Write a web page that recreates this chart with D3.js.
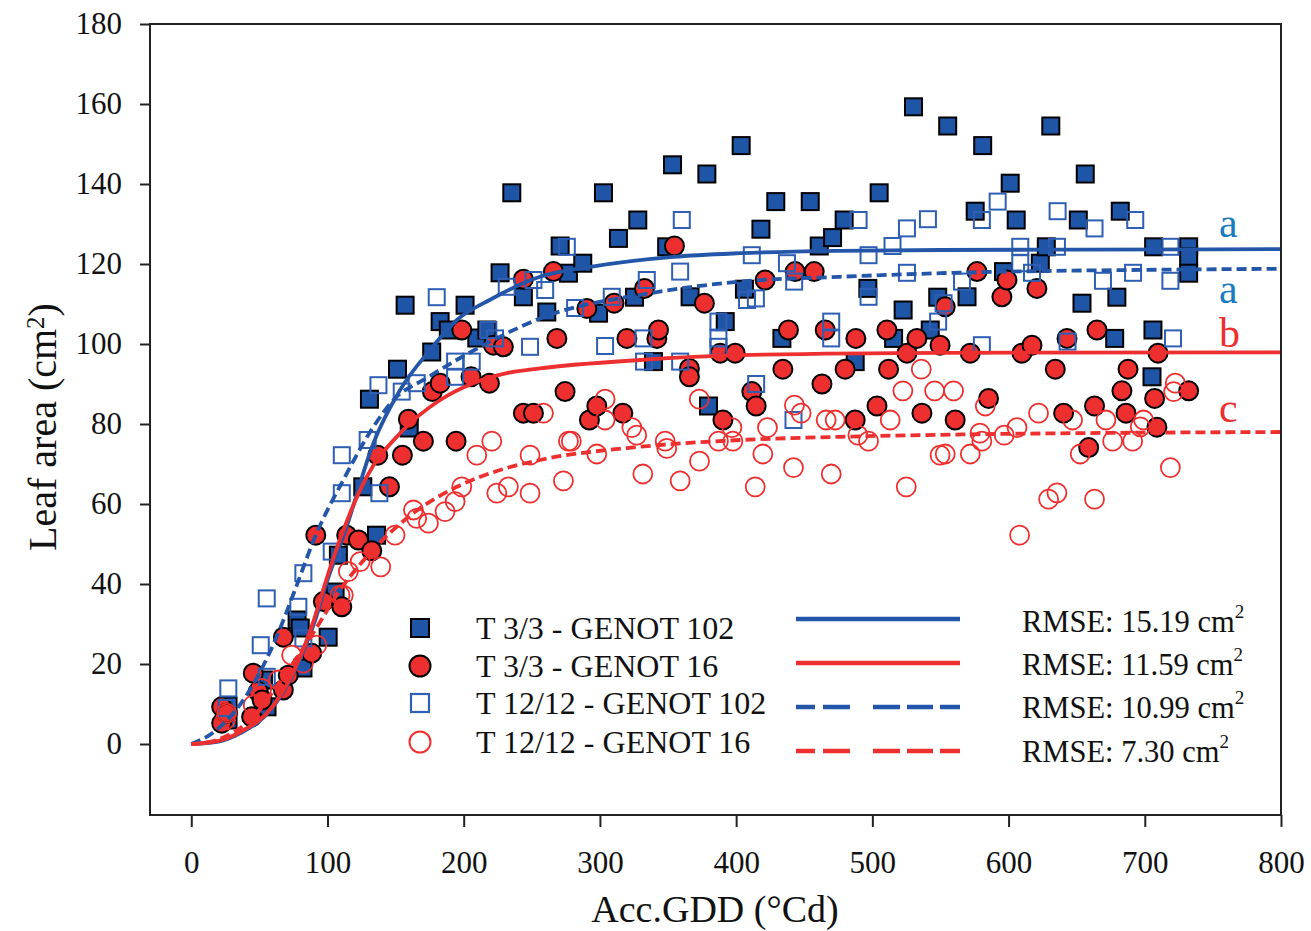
<!DOCTYPE html>
<html>
<head>
<meta charset="utf-8">
<script src="https://cdn.jsdelivr.net/npm/d3@7"></script>
<style>
body { margin: 0; background: #fff; }
text { font-family: "Liberation Serif", "Times New Roman", serif; fill: #111; }
</style>
</head>
<body>
<svg width="1311" height="931"></svg>
<script>
var svg = d3.select('svg');

// observations, [Acc.GDD, leaf area]
var t3g102 = [[27,9.5],[27,6],[53,16],[55.6,9.3],[77.7,31],[80,29],[82,19],[100.5,26.7],[104,37.7],[105.6,38],
  [108,47.2],[125.9,64.3],[130.8,86.2],[136,52.2],[151.4,93.7],[157,109.7],[160,79],[176.5,98],[182.7,105.6],
  [188.7,103.5],[201,109.7],[209.6,101.5],[217,103.5],[226.7,117.8],[235.3,137.8],[243.8,111.8],[261,108],
  [270.8,124.5],[276.9,117.7],[287.4,120.2],[299,107.7],[302.6,137.8],[313.6,126.4],[325.4,111.7],[327.8,131],
  [339.3,95.6],[349,124.3],[353.3,144.8],[366.2,111.8],[378.5,142.5],[379.7,84.5],[392,105.6],[403.7,149.6],
  [406.1,113.7],[418.2,128.7],[429.1,135.6],[433.6,101.4],[454.4,135.6],[461,124.5],[470.8,126.6],[479.3,131],
  [487.4,95.6],[496.7,113.9],[505,137.8],[515.6,101.4],[522.6,108.5],[530.2,159.3],[542.5,103.5],[548,111.7],
  [555.3,154.5],[569.5,111.8],[575.5,133.2],[581,149.6],[596.3,118.1],[601.2,140.2],[605.6,131],[623.3,120.2],
  [627.7,124.3],[631,154.5],[651.2,131],[653.9,110.2],[656.3,142.5],[677.9,101.4],[679.5,111.7],[682,133.2],
  [705.3,91.8],[706,103.5],[706.5,124.3],[732.2,124.3],[732.2,121.8],[732.2,117.7]];

var t3g16 = [[22.3,9.3],[22.3,5.2],[26,7.7],[44.3,6.8],[45.5,17.7],[49.2,13.1],[52,11],[67.6,13.5],[67.6,26.7],
  [71.2,17.2],[88.4,22.7],[91.4,52.2],[97,35.6],[110.5,34.3],[114.1,52.2],[122.7,51],[132.5,48.3],[136.9,72.2],
  [145.5,64.3],[155,72.2],[159.4,81.2],[170.4,75.7],[177,88.1],[182.7,90.2],[194.4,75.7],[198.6,103.5],
  [205.4,91.8],[218.9,90.2],[221.8,99.7],[229.1,99.3],[243.8,116.2],[243.8,82.7],[251.2,82.7],[265.9,118.1],
  [268.4,101.4],[274.4,88.1],[290.4,108.9],[292.3,81],[297.7,84.5],[310.4,110.2],[316.8,82.7],[319.8,101.4],
  [332.7,113.9],[341.8,101.4],[343,103.5],[354.7,124.5],[365.7,93.9],[365.7,91.8],[376.7,110.2],[388.3,97.7],
  [390.3,81],[399.3,97.7],[411.5,88.1],[414.7,84.5],[421.3,116],[434.3,93.7],[438.4,103.5],[443.3,118.1],
  [457.3,118.1],[463,90],[465.4,103.5],[480,93.7],[487.4,81],[487.9,101.4],[503.4,84.5],[510.7,103.5],
  [511.9,93.7],[525.4,97.7],[532.7,101.4],[536.4,82.7],[549.7,99.7],[553.5,109.3],[560.8,81],[571.9,97.7],
  [576.8,118.1],[585.3,86.4],[595.1,111.8],[598.8,116],[609.8,97.7],[617.2,99.7],[620.8,113.9],[634.3,93.7],
  [640.4,82.7],[642.9,101.4],[658.8,74.1],[663.1,84.5],[664.9,103.5],[683.2,88.3],[686.2,82.7],[687.7,93.7],
  [707.2,86.4],[708.9,79.2],[709.7,97.7],[732.2,88.3]];

var t12g102 = [[26,9],[27.2,13.9],[51,24.7],[55.4,16.8],[55.4,36.4],[78.6,34.3],[82.3,26.4],[82.3,42.7],
  [103.1,48.1],[110.5,62.7],[110.5,72.2],[129.5,76],[137.4,89.7],[138.1,62.7],[154.5,88.1],[165.5,90.2],
  [180.2,111.7],[193.7,91.8],[193.7,95.6],[205.9,95.6],[218.1,103.5],[223,101.4],[231.6,114.3],[248.7,99.3],
  [251.2,116],[259.8,113.5],[275.7,124.3],[281.8,109],[303.8,99.5],[308.7,111.8],[332,101.4],[332.4,95.6],
  [334.4,116],[358.9,95.6],[358.9,118.1],[360.1,131],[387,105.6],[387,101.4],[387,99.3],[408,111],
  [411.5,122.2],[414.5,111.4],[414.7,90],[437.3,120.2],[442.1,81],[442.6,115.6],[469.8,105.6],[469.8,101.4],
  [489.9,131],[497.2,122.2],[497.2,111.8],[514.8,124.5],[525.4,128.9],[525.4,117.8],[540.8,131.2],[548.3,105.6],
  [552.3,110.2],[565.8,115.6],[580.4,131],[580.4,99.7],[592,135.6],[608.6,124.3],[608.6,120.2],[617.2,117.8],
  [635.5,124.3],[636,133.2],[643.3,100.6],[663.1,128.9],[669.3,115.8],[691.4,117.8],[693,131],[718.8,124.3],
  [718.8,115.8],[720.7,101.4]];

var t12g16 = [[25,6],[26,7.7],[45.5,9.7],[51.7,13.9],[63.9,16],[73.7,22.2],[82.3,20.2],[92.1,24.7],[109.2,37.2],
  [111.6,37.2],[115.3,43.1],[124,45.6],[139.1,44.3],[149.6,52.2],[163.1,58.5],[165.5,56.4],[174.1,55.2],
  [186.3,58.1],[193.7,60.6],[198.6,64.3],[209.6,72.2],[220.6,75.7],[224.3,62.7],[232.8,64.3],[248.7,72.2],
  [248.7,62.7],[258.5,82.7],[273.2,65.8],[276.9,75.7],[279,75.7],[297.7,72.5],[303.8,86.2],[303.8,81],
  [323.4,79.1],[327,77.2],[331.5,67.5],[347.9,75.7],[349.1,73.9],[358.9,65.8],[372.9,86.2],[373.1,70.7],
  [387,75.7],[396.9,79.1],[397.6,75.7],[414,64.3],[419.6,72.5],[423,79.1],[442.1,69.1],[442.8,84.7],
  [447.7,82.7],[466.1,81],[469.8,67.5],[472.7,81],[489.4,77.2],[497.2,75.7],[513.1,81],[522.4,88.3],
  [524.9,64.3],[535.9,93.7],[545.7,88.3],[549.7,72.2],[553.5,72.5],[559.6,88.3],[571.9,72.5],[579,77.7],
  [580.4,75.7],[582.9,84.5],[596.8,77.2],[606.2,79.1],[608.1,52.2],[622,82.7],[629.4,61.2],[635.5,62.8],
  [647,81],[652.6,72.5],[663.1,61.2],[671.5,81],[676.4,75.7],[691.1,75.7],[696.7,79.3],[699.1,81],
  [718.8,69.1],[721.2,88.1],[722.4,90.2]];

// fitted curves
var fitT3g102 = [[0,0],[20,0.6],[36,2.7],[60,9.2],[77,19],[90,30],[100,41],[114,54.3],[133.7,75.2],[153.3,88.5],
  [175.3,98.5],[195,106],[219,111],[256,116.8],[293,119.3],[354,121.8],[403,122.7],[476,123.3],[550,123.5],
  [650,123.6],[800,123.7]];
var fitT3g16 = [[0,0],[20,0.8],[36,3],[60,9.5],[77,19.5],[90,31],[100,42],[109,51],[128.8,66.8],[153.3,77.7],
  [182.7,86],[207,90.2],[231.6,92.7],[256,93.9],[329.4,96],[403,97.2],[550,97.8],[800,97.9]];
var fitT12g102 = [[0,0],[18.6,3.5],[43,13.5],[62.7,26.8],[75,37.5],[92,52.7],[111.6,66],[133.7,79.3],
  [148.4,86],[172.9,91.5],[197.3,96.5],[221.8,101],[256,106.4],[336.8,112.7],[403,115.6],[476,116.8],
  [550,117.7],[721,118.6],[800,118.8]];
var fitT12g16 = [[0,0],[18.6,1],[43,6],[67.6,16.8],[90,28],[109.2,38.5],[131.2,47.7],[163,57.7],[195,64.3],
  [226.7,68.5],[256,71],[329.4,74.3],[403,76],[476,76.8],[550,77.3],[800,78]];

var xTicks = [0, 100, 200, 300, 400, 500, 600, 700, 800];
var yTicks = [0, 20, 40, 60, 80, 100, 120, 140, 160, 180];
var legendLabels = ['T 3/3 - GENOT 102', 'T 3/3 - GENOT 16', 'T 12/12 - GENOT 102', 'T 12/12 - GENOT 16'];
var rmseLabels = ['RMSE: 15.19 cm', 'RMSE: 11.59 cm', 'RMSE: 10.99 cm', 'RMSE: 7.30 cm'];
var groupLetters = ['a', 'a', 'b', 'c'];

var blue = '#1f55a6', blueLine = '#2356a8', blueOpen = '#2f5fb3', red = '#ee2f2f', letterBlue = '#1b7bc1';

var x = d3.scaleLinear().domain([-30.3, 800]).range([150, 1281]);
var y = d3.scaleLinear().domain([-17.75, 180]).range([815, 24]);

//points
var pts = svg.append('g');
pts.selectAll('.fsq').data(t3g102).enter().append('rect')
  .attr('x', function(d){ return x(d[0]) - 8.5; })
  .attr('y', function(d){ return y(d[1]) - 8.5; })
  .attr('width', 17).attr('height', 17)
  .attr('fill', blue).attr('stroke', '#000').attr('stroke-width', 2);
pts.selectAll('.fci').data(t3g16).enter().append('circle')
  .attr('cx', function(d){ return x(d[0]); })
  .attr('cy', function(d){ return y(d[1]); })
  .attr('r', 9.5)
  .attr('fill', red).attr('stroke', '#000').attr('stroke-width', 2);
pts.selectAll('.osq').data(t12g102).enter().append('rect')
  .attr('x', function(d){ return x(d[0]) - 8; })
  .attr('y', function(d){ return y(d[1]) - 8; })
  .attr('width', 16).attr('height', 16)
  .attr('fill', 'none').attr('stroke', blueOpen).attr('stroke-width', 2);
pts.selectAll('.oci').data(t12g16).enter().append('circle')
  .attr('cx', function(d){ return x(d[0]); })
  .attr('cy', function(d){ return y(d[1]); })
  .attr('r', 9.5)
  .attr('fill', 'none').attr('stroke', red).attr('stroke-width', 1.8);

//fitted lines
var line = d3.line()
  .x(function(d){ return x(d[0]); })
  .y(function(d){ return y(d[1]); })
  .curve(d3.curveMonotoneX);
var fits = [
  {data: fitT3g102, color: blueLine, dash: null},
  {data: fitT3g16, color: red, dash: null},
  {data: fitT12g102, color: blueLine, dash: '10,5'},
  {data: fitT12g16, color: red, dash: '10,5'}
];
fits.forEach(function(f){
  svg.append('path').attr('d', line(f.data))
    .attr('fill', 'none').attr('stroke', f.color).attr('stroke-width', 3.8)
    .attr('stroke-dasharray', f.dash);
});

// frame
svg.append('rect').attr('x', 150).attr('y', 24).attr('width', 1131).attr('height', 791)
  .attr('fill', 'none').attr('stroke', '#222').attr('stroke-width', 2);

var gx = svg.append('g').attr('transform', 'translate(0,815)')
  .call(d3.axisBottom(x).tickValues(xTicks).tickSize(12).tickPadding(24));
var gy = svg.append('g').attr('transform', 'translate(150,0)')
  .call(d3.axisLeft(y).tickValues(yTicks).tickSize(10).tickPadding(18));
[gx, gy].forEach(function(g){
  g.select('.domain').remove();
  g.selectAll('line').attr('stroke', '#222').attr('stroke-width', 2);
  g.selectAll('text').style('font-size', '31px').style('font-family', '"Liberation Serif", serif').style('fill', '#111');
});

svg.append('text').text('Acc.GDD (°Cd)')
  .attr('x', 715).attr('y', 922)
  .style('text-anchor', 'middle').style('font-size', '38px');

var yl = svg.append('text')
  .attr('transform', 'translate(56,427)rotate(-90)')
  .style('text-anchor', 'middle').style('font-size', '40px');
yl.append('tspan').text('Leaf area (cm');
yl.append('tspan').text('2').attr('dy', -12).style('font-size', '25px');
yl.append('tspan').text(')').attr('dy', 12);

// significance letters
var letterY = [237, 303, 347, 422];
groupLetters.forEach(function(l, i){
  svg.append('text').text(l)
    .attr('x', 1219).attr('y', letterY[i])
    .style('font-size', '42px')
    .style('fill', i < 2 ? letterBlue : red);
});

//legend
var lg = svg.append('g');
var markY = [628, 666, 703, 742];
lg.append('rect').attr('x', 411).attr('y', markY[0] - 9).attr('width', 18).attr('height', 18)
  .attr('fill', blue).attr('stroke', '#000').attr('stroke-width', 2);
lg.append('circle').attr('cx', 420).attr('cy', markY[1]).attr('r', 10.5)
  .attr('fill', red).attr('stroke', '#000').attr('stroke-width', 2);
lg.append('rect').attr('x', 411).attr('y', markY[2] - 9).attr('width', 18).attr('height', 18)
  .attr('fill', 'none').attr('stroke', blueOpen).attr('stroke-width', 2.2);
lg.append('circle').attr('cx', 420).attr('cy', markY[3]).attr('r', 10.5)
  .attr('fill', 'none').attr('stroke', red).attr('stroke-width', 2);

legendLabels.forEach(function(t, i){
  lg.append('text').text(t).attr('x', 476).attr('y', markY[i] + 11).style('font-size', '32px');
});

var lineY = [619, 663, 707, 751];
fits.forEach(function(f, i){
  lg.append('line').attr('x1', 796).attr('x2', 960).attr('y1', lineY[i]).attr('y2', lineY[i])
    .attr('stroke', f.color).attr('stroke-width', 4.5)
    .attr('stroke-dasharray', f.dash ? '19,8,27,23,27,7,26,7,20' : null);
});

var rmseY = [632, 675, 718, 762];
rmseLabels.forEach(function(t, i){
  var tx = lg.append('text').attr('x', 1022).attr('y', rmseY[i]).style('font-size', '30.5px');
  tx.append('tspan').text(t);
  tx.append('tspan').text('2').attr('dy', -14).style('font-size', '19px');
});
</script>
</body>
</html>
